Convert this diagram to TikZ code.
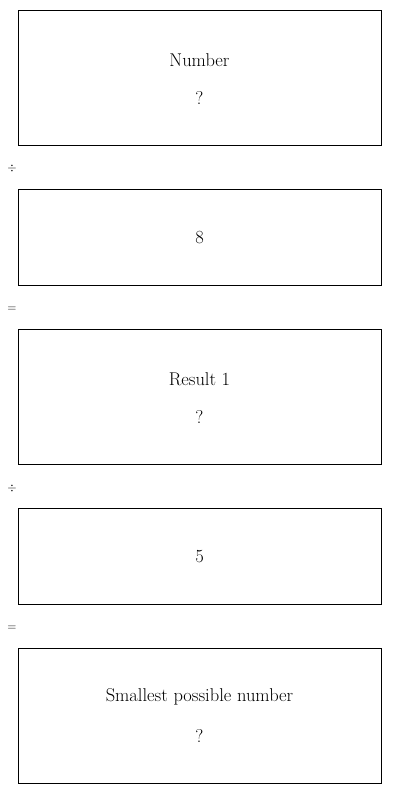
\documentclass[tikz,border=0pt]{standalone}
\begin{document}
\begin{tikzpicture}[x=1pt,y=-1pt,
  box/.style={draw=black,line width=0.9pt,minimum width=363pt,inner sep=0pt,outer sep=0pt},
  lbl/.style={font=\fontsize{18.5}{22}\selectfont,inner sep=0pt},
  op/.style={font=\fontsize{12}{14}\selectfont,inner sep=0pt}]
\useasboundingbox (0,0) rectangle (400,794);
\node[box,minimum height=135pt] (b1) at (199.5,77.5) {};
\node[lbl] (t1) at (199.5,60) {Number};
\node[lbl] (q1) at (199.5,98) {?};
\node[op] (o1) at (12,169) {$\div$};
\node[box,minimum height=96pt] (b2) at (199.5,237) {};
\node[lbl] (t2) at (199.5,238) {8};
\node[op] (o2) at (12,309) {$=$};
\node[box,minimum height=135pt] (b3) at (199.5,396.5) {};
\node[lbl] (t3) at (199.5,379) {Result 1};
\node[lbl] (q3) at (199.5,417) {?};
\node[op] (o3) at (12,488) {$\div$};
\node[box,minimum height=96pt] (b4) at (199.5,556) {};
\node[lbl] (t4) at (199.5,557) {5};
\node[op] (o4) at (12,628) {$=$};
\node[box,minimum height=135pt] (b5) at (199.5,715.5) {};
\node[lbl] (t5) at (199.5,697) {Smallest possible number};
\node[lbl] (q5) at (199.5,736) {?};
\end{tikzpicture}
\end{document}
